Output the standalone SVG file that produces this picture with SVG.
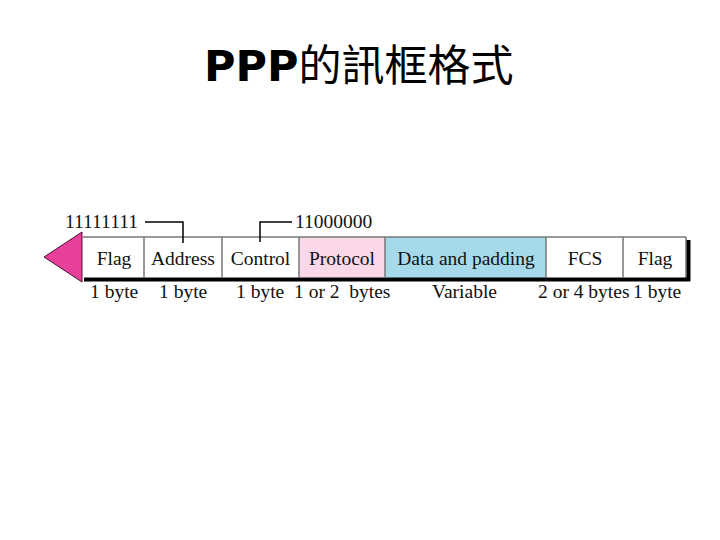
<svg xmlns="http://www.w3.org/2000/svg" width="720" height="540" viewBox="0 0 720 540">
<style>
.cell{font-family:"Liberation Serif","Times New Roman",serif;font-size:19.5px;fill:#111;text-anchor:middle}
.lbl{font-family:"Liberation Serif","Times New Roman",serif;font-size:19.5px;fill:#111;white-space:pre}
.div{stroke:#777;stroke-width:1.5}
.lead{stroke:#000;stroke-width:1.5;fill:none}
</style>
<rect width="720" height="540" fill="#fff"/>
<text x="204" y="81" font-family="'Noto Sans CJK TC','Noto Sans CJK SC',sans-serif" font-size="43" fill="#000"><tspan font-family="'DejaVu Sans',sans-serif" font-weight="bold">PPP</tspan>的訊框格式</text>
<g id="frame">
<rect x="686" y="240" width="4.5" height="41" fill="#000"/>
<rect x="299" y="237" width="86" height="41" fill="#fbd7ea"/>
<rect x="385" y="237" width="161" height="41" fill="#a6d9ea"/>
<line x1="83" y1="237" x2="686" y2="237" class="div"/>
<line x1="686" y1="237" x2="686" y2="278" class="div"/>
<line x1="84" y1="279.5" x2="690" y2="279.5" stroke="#000" stroke-width="4"/>
<line x1="144" y1="237" x2="144" y2="278" class="div"/>
<line x1="222" y1="237" x2="222" y2="278" class="div"/>
<line x1="299" y1="237" x2="299" y2="278" class="div"/>
<line x1="385" y1="237" x2="385" y2="278" class="div"/>
<line x1="546" y1="237" x2="546" y2="278" class="div"/>
<line x1="623" y1="237" x2="623" y2="278" class="div"/>
<polygon points="44,257 82,232 82,282" fill="#e8409a" stroke="#4a1030" stroke-width="1"/>
</g>
<g id="cells">
<text x="114" y="265" class="cell">Flag</text>
<text x="183" y="265" class="cell">Address</text>
<text x="260.5" y="265" class="cell">Control</text>
<text x="342" y="265" class="cell">Protocol</text>
<text x="466" y="265" class="cell">Data and padding</text>
<text x="585" y="265" class="cell">FCS</text>
<text x="655" y="265" class="cell">Flag</text>
</g>
<g id="sizes">
<text x="90" y="298" class="lbl">1 byte</text>
<text x="159" y="298" class="lbl">1 byte</text>
<text x="236" y="298" class="lbl">1 byte</text>
<text x="294" y="298" class="lbl" xml:space="preserve">1 or 2  bytes</text>
<text x="432" y="298" class="lbl">Variable</text>
<text x="538" y="298" class="lbl">2 or 4 bytes</text>
<text x="633" y="298" class="lbl">1 byte</text>
</g>
<g id="connectors">
<text x="65" y="228" class="lbl">11111111</text>
<polyline points="145,222 183,222 183,243" class="lead"/>
<text x="295" y="228" class="lbl">11000000</text>
<polyline points="292,222 260,222 260,242" class="lead"/>
</g>
</svg>
